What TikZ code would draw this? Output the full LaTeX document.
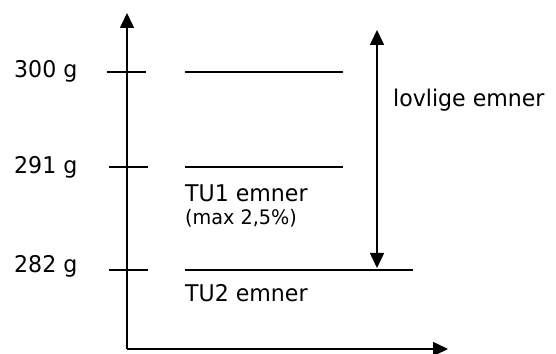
\documentclass[tikz,border=0pt]{standalone}
\usepackage{fontspec}
\setmainfont{DejaVu Sans}[FakeStretch=0.96]
\usetikzlibrary{arrows.meta}
\begin{document}
\begin{tikzpicture}[x=1pt,y=1pt,
  lbl/.style={inner sep=0pt,anchor=base west,font=\fontsize{23}{27}\selectfont},
  smalllbl/.style={inner sep=0pt,anchor=base west,font=\fontsize{20}{24}\selectfont},
  axis/.style={line width=1.6pt,-{Triangle[length=15pt,width=14pt]}},
  level/.style={line width=1.3pt},
  tick/.style={line width=1.3pt},
  span/.style={line width=1.6pt,{Triangle[length=15pt,width=14pt]}-{Triangle[length=15pt,width=14pt]}}]
\useasboundingbox (0,0) rectangle (556,353);
% axes
\coordinate (O) at (127,4);
\coordinate (Ytop) at (127,340);
\coordinate (Xend) at (448,4);
\draw[axis] (O) -- (Ytop);
\draw[axis] (O) -- (Xend);
% ticks
\coordinate (t300a) at (107,281); \coordinate (t300b) at (146,281);
\coordinate (t291a) at (109,186); \coordinate (t291b) at (148,186);
\coordinate (t282a) at (109,83);  \coordinate (t282b) at (148,83);
\draw[tick] (t300a) -- (t300b);
\draw[tick] (t291a) -- (t291b);
\draw[tick] (t282a) -- (t282b);
% level lines
\coordinate (l300a) at (185,281); \coordinate (l300b) at (343,281);
\coordinate (l291a) at (185,186); \coordinate (l291b) at (343,186);
\coordinate (l282a) at (185,83);  \coordinate (l282b) at (413,83);
\draw[level] (l300a) -- (l300b);
\draw[level] (l291a) -- (l291b);
\draw[level] (l282a) -- (l282b);
% span arrow
\coordinate (sTop) at (377,323);
\coordinate (sBot) at (377,85);
\draw[span] (sBot) -- (sTop);
% labels
\node[lbl] (g300) at (14,275) {300 g};
\node[lbl] (g291) at (14,179) {291 g};
\node[lbl] (g282) at (14,80) {282 g};
\node[lbl] (tu1) at (185,151) {TU1 emner};
\node[smalllbl] (max) at (185,128) {(max 2,5\%)};
\node[lbl] (tu2) at (185,52) {TU2 emner};
\node[lbl] (lov) at (393,246) {lovlige emner};
\end{tikzpicture}
\end{document}
